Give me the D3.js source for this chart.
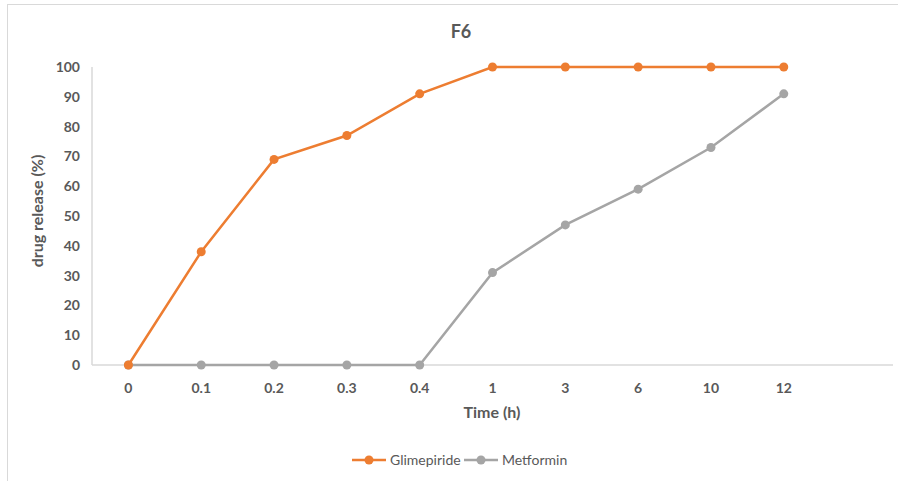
<!DOCTYPE html>
<html>
<head>
<script src="https://cdn.jsdelivr.net/npm/d3@7"></script>
<style>
body { margin: 0; background: #fff; }
text { font-family: Lato, "Open Sans", sans-serif; fill: #595959; }
</style>
</head>
<body>
<div id="chart"></div>
<script>
var times = ["0", "0.1", "0.2", "0.3", "0.4", "1", "3", "6", "10", "12"];
var glimepiride = [0, 38, 69, 77, 91, 100, 100, 100, 100, 100];
var metformin = [0, 0, 0, 0, 0, 31, 47, 59, 73, 91];
var yTicks = [0, 10, 20, 30, 40, 50, 60, 70, 80, 90, 100];

var w = 898, h = 481;
var series = [
  {name: "Glimepiride", values: glimepiride, color: "#ED7D31"},
  {name: "Metformin", values: metformin, color: "#A5A5A5"}
];

var svg = d3.select("#chart").append("svg")
    .attr("width", w)
    .attr("height", h);

// outer frame
svg.append("rect")
    .attr("x", 7.5).attr("y", 4.5)
    .attr("width", 900).attr("height", 500)
    .attr("fill", "none")
    .attr("stroke", "#d9d9d9");

// an extra empty slot at the end, like the original
var x = d3.scaleBand()
    .domain(times.concat([" "]))
    .range([92, 893]);

var y = d3.scaleLinear()
    .domain([0, 100])
    .range([365, 67]);

var cx = function(i) { return x(times[i]) + x.bandwidth() / 2; };

svg.append("line")
    .attr("x1", 92).attr("x2", 893)
    .attr("y1", y(0)).attr("y2", y(0))
    .attr("stroke", "#d9d9d9").attr("stroke-width", 1.5);
svg.append("line")
    .attr("x1", 92).attr("x2", 92)
    .attr("y1", y(0)).attr("y2", y(100))
    .attr("stroke", "#d9d9d9").attr("stroke-width", 1.5);

svg.selectAll(".ytick")
    .data(yTicks)
  .enter().append("text")
    .attr("class", "ytick")
    .attr("x", 80)
    .attr("y", function(d) { return y(d); })
    .attr("dy", "0.35em")
    .attr("text-anchor", "end")
    .style("font-size", "14px")
    .style("font-weight", "bold")
    .text(function(d) { return d; });

svg.selectAll(".xtick")
    .data(times)
  .enter().append("text")
    .attr("class", "xtick")
    .attr("x", function(d, i) { return cx(i); })
    .attr("y", 393)
    .attr("text-anchor", "middle")
    .style("font-size", "14px")
    .style("font-weight", "bold")
    .text(function(d) { return d; });

svg.append("text")
    .attr("x", 461).attr("y", 38)
    .attr("text-anchor", "middle")
    .style("font-size", "18px")
    .style("font-weight", "bold")
    .text("F6");

svg.append("text")
    .attr("x", 492).attr("y", 418)
    .attr("text-anchor", "middle")
    .style("font-size", "16px")
    .style("font-weight", "bold")
    .text("Time (h)");

svg.append("text")
    .attr("transform", "translate(43,211) rotate(-90)")
    .attr("text-anchor", "middle")
    .style("font-size", "16px")
    .style("font-weight", "bold")
    .text("drug release (%)");

var line = d3.line()
    .x(function(d, i) { return cx(i); })
    .y(function(d) { return y(d); });

series.slice().reverse().forEach(function(s) {
  var g = svg.append("g");
  g.append("path")
      .attr("d", line(s.values))
      .attr("fill", "none")
      .attr("stroke", s.color)
      .attr("stroke-width", 2.5);
  g.selectAll("circle")
      .data(s.values)
    .enter().append("circle")
      .attr("cx", function(d, i) { return cx(i); })
      .attr("cy", function(d) { return y(d); })
      .attr("r", 4.5)
      .attr("fill", s.color);
});

// legend
var legendX = [352, 464];
var legend = svg.selectAll(".legend")
    .data(series)
  .enter().append("g")
    .attr("transform", function(d, i) { return "translate(" + legendX[i] + ",460)"; });
legend.append("line")
    .attr("x1", 0).attr("x2", 34)
    .attr("stroke", function(d) { return d.color; })
    .attr("stroke-width", 2.5);
legend.append("circle")
    .attr("cx", 17).attr("r", 4.5)
    .attr("fill", function(d) { return d.color; });
legend.append("text")
    .attr("x", 38)
    .attr("dy", "0.35em")
    .style("font-size", "14px")
    .text(function(d) { return d.name; });
</script>
</body>
</html>
